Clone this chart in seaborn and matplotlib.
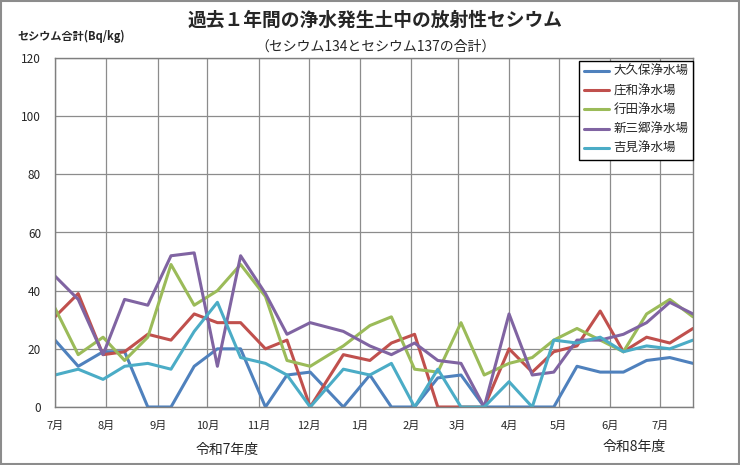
import matplotlib
matplotlib.use("Agg")
import matplotlib.pyplot as plt
from matplotlib.patches import Rectangle
import seaborn as sns
import pandas as pd

# sampling dates (roughly every two weeks)
dates = ['2025-07-01', '2025-07-15', '2025-07-30', '2025-08-12', '2025-08-26',
         '2025-09-09', '2025-09-23', '2025-10-07', '2025-10-21', '2025-11-05',
         '2025-11-18', '2025-12-02', '2025-12-22', '2026-01-07', '2026-01-20',
         '2026-02-03', '2026-02-17', '2026-03-03', '2026-03-17', '2026-04-01',
         '2026-04-15', '2026-04-28', '2026-05-12', '2026-05-26', '2026-06-09',
         '2026-06-23', '2026-07-07', '2026-07-21']

okubo = [23, 14, 19, 19, 0, 0, 14, 20, 20, 0, 11, 12, 0, 11, 0,
         0, 10, 11, 0, 0, 0, 0, 14, 12, 12, 16, 17, 15]
showa = [31, 39, 18, 19, 25, 23, 32, 29, 29, 20, 23, 0, 18, 16, 22,
         25, 0, 0, 0, 20, 12, 19, 21, 33, 19, 24, 22, 27]
gyoda = [34, 18, 24, 16, 24, 49, 35, 40, 49, 38, 16, 14, 21, 28, 31,
         13, 12, 29, 11, 15, 17, 23, 27, 23, 19, 32, 37, 31]
shinmisato = [45, 37, 18, 37, 35, 52, 53, 14, 52, 39, 25, 29, 26, 21, 18,
              22, 16, 15, 0, 32, 11, 12, 23, 23, 25, 29, 36, 32]
yoshimi = [11, 13, 9.5, 14, 15, 13, 26, 36, 17, 15, 11, 0, 13, 11, 15,
           0, 13, 0, 0, 8.7, 0, 23, 22, 24, 19, 21, 20, 23]

plants = ['大久保浄水場', '庄和浄水場', '行田浄水場', '新三郷浄水場', '吉見浄水場']
colors = ['#4F81BD', '#C0504D', '#9BBB59', '#8064A2', '#4BACC6']
month_labels = ['7月', '8月', '9月', '10月', '11月', '12月', '1月',
                '2月', '3月', '4月', '5月', '6月', '7月']
year_labels = ['令和7年度', '令和8年度']

series = [okubo, showa, gyoda, shinmisato, yoshimi]
frames = []
for name, vals in zip(plants, series):
    frames.append(pd.DataFrame({'date': pd.to_datetime(dates), 'value': vals, 'plant': name}))
df = pd.concat(frames, ignore_index=True)

sns.set_style("white")
plt.rcParams['font.family'] = ['Noto Sans CJK JP', 'DejaVu Sans']

fig = plt.figure(figsize=(7.4, 4.65), dpi=100)
ax = fig.add_axes([55 / 740, 1 - 407 / 465, (693 - 55) / 740, (407 - 58) / 465])

sns.lineplot(data=df, x='date', y='value', hue='plant', hue_order=plants,
             palette=colors, linewidth=2.2, ax=ax)

ax.set_ylim(0, 120)
ax.set_yticks(range(0, 121, 20))
ax.set_xlim(pd.Timestamp(dates[0]), pd.Timestamp(dates[-1]))
month_ticks = pd.date_range('2025-07-01', '2026-07-01', freq='MS')
ax.set_xticks(month_ticks)
ax.set_xticklabels(month_labels)
ax.grid(True, color='#8c8c8c', linewidth=0.9)
ax.set_axisbelow(True)
for s in ax.spines.values():
    s.set_color('#7f7f7f')
    s.set_linewidth(1)
ax.tick_params(axis='x', length=4, color='#7f7f7f', labelsize=8, pad=6)
ax.tick_params(axis='y', length=0, labelsize=8.5, pad=10)
ax.set_xlabel('')
ax.set_ylabel('')

leg = ax.legend(loc='upper right', bbox_to_anchor=(693 / 740, 1 - 61 / 465),
                bbox_transform=fig.transFigure, fontsize=9, frameon=True,
                fancybox=False, edgecolor='black', framealpha=1,
                handlelength=2.0, labelspacing=0.5, borderpad=0.35,
                handletextpad=0.4, borderaxespad=0)
leg.get_frame().set_linewidth(1)
for h in leg.get_lines():
    h.set_linewidth(2.2)

fig.text(375 / 740, 1 - 20 / 465, '過去１年間の浄水発生土中の放射性セシウム',
         ha='center', va='center', fontsize=13.5, fontweight='bold')
fig.text(375 / 740, 1 - 47 / 465, '（セシウム134とセシウム137の合計）',
         ha='center', va='center', fontsize=10)
fig.text(17 / 740, 1 - 36 / 465, 'セシウム合計(Bq/kg)',
         ha='left', va='center', fontsize=8, fontweight='bold')
fig.text(227 / 740, 1 - 450 / 465, year_labels[0], ha='center', va='center', fontsize=10)
fig.text(634 / 740, 1 - 447 / 465, year_labels[1], ha='center', va='center', fontsize=10)

fig.patches.append(Rectangle((0.001, 0.002), 0.997, 0.996, transform=fig.transFigure,
                             fill=False, edgecolor='#8c8c8c', linewidth=1.5))

fig.savefig('out.png', dpi=100)
